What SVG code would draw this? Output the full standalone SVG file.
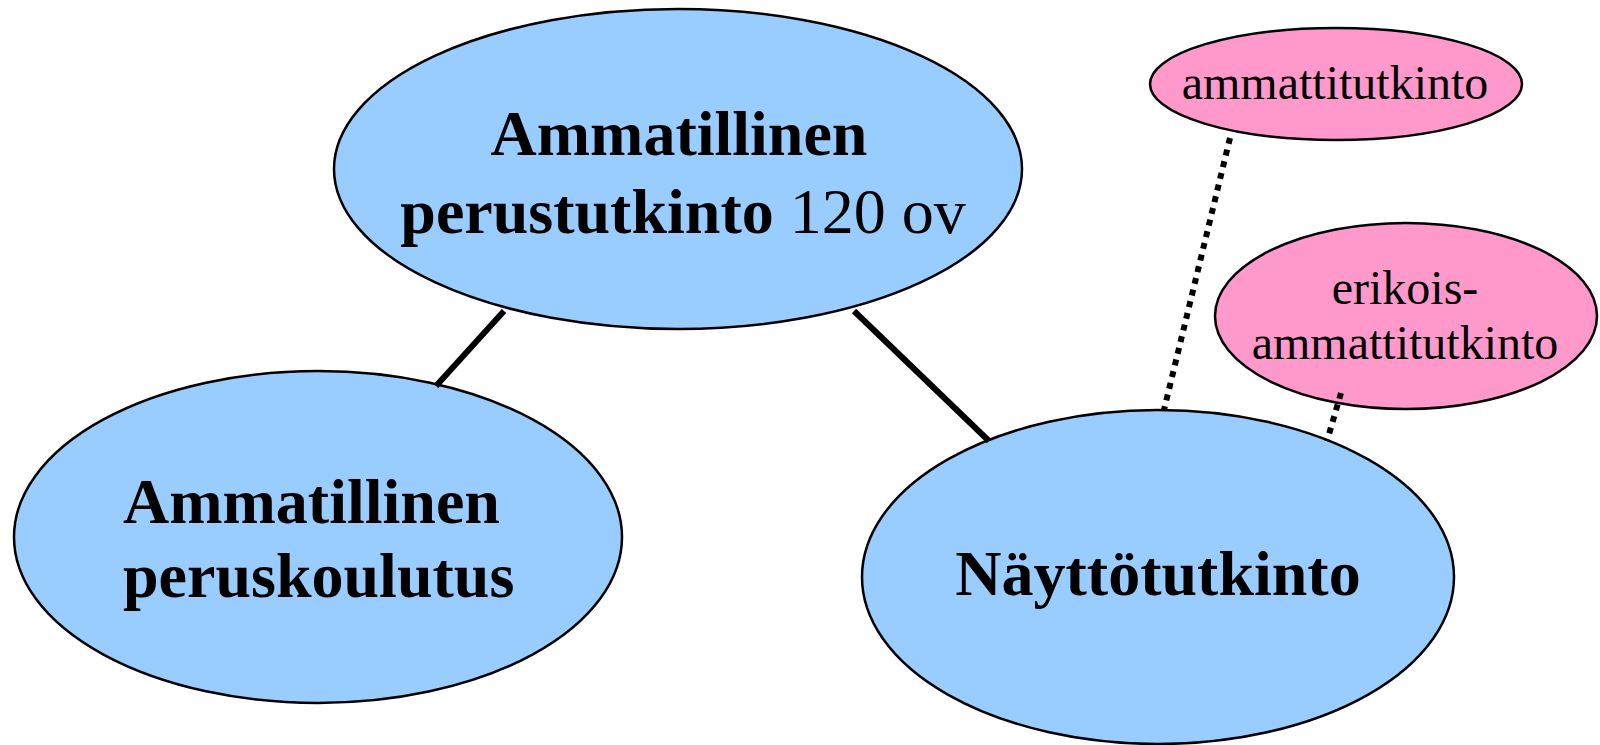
<svg xmlns="http://www.w3.org/2000/svg" width="1600" height="745" viewBox="0 0 1600 745">
<style>
.blue{fill:#99CCFF;stroke:#000;stroke-width:2.5}
.pink{fill:#FF99CC;stroke:#000;stroke-width:2.5}
.solid{stroke:#000;stroke-width:6;fill:none}
.dot{stroke:#000;stroke-width:6;fill:none;stroke-dasharray:6 6}
.big{font-family:"Liberation Serif",serif;font-size:64px;font-weight:bold;fill:#000}
.small{font-family:"Liberation Serif",serif;font-size:48px;fill:#000}
</style>
<rect width="1600" height="745" fill="#fff"/>
<g id="node-perustutkinto">
<ellipse class="blue" cx="678" cy="169" rx="344" ry="160"/>
<text class="big" x="679" y="155" text-anchor="middle">Ammatillinen</text>
<text class="big" x="683" y="233" text-anchor="middle">perustutkinto<tspan font-weight="normal"> 120 ov</tspan></text>
</g>
<g id="node-peruskoulutus">
<ellipse class="blue" cx="318" cy="537" rx="304" ry="166"/>
<text class="big" x="123" y="523">Ammatillinen</text>
<text class="big" x="123" y="597">peruskoulutus</text>
</g>
<g id="node-nayttotutkinto">
<ellipse class="blue" cx="1158" cy="577" rx="296" ry="167"/>
<text class="big" x="1158" y="595" text-anchor="middle">Näyttötutkinto</text>
</g>
<g id="node-ammattitutkinto">
<ellipse class="pink" cx="1336" cy="84" rx="186" ry="56"/>
<text class="small" x="1335" y="99" text-anchor="middle">ammattitutkinto</text>
</g>
<g id="node-erikoisammattitutkinto">
<ellipse class="pink" cx="1406" cy="316" rx="191" ry="93"/>
<text class="small" x="1405" y="304" text-anchor="middle">erikois-</text>
<text class="small" x="1405" y="359" text-anchor="middle">ammattitutkinto</text>
</g>
<g id="connectors">
<line class="solid" x1="504" y1="311" x2="436" y2="386"/>
<line class="solid" x1="854" y1="311" x2="989" y2="441"/>
<line class="dot" x1="1230" y1="138" x2="1164" y2="410"/>
<line class="dot" x1="1341" y1="393" x2="1327" y2="441"/>
</g>
</svg>
